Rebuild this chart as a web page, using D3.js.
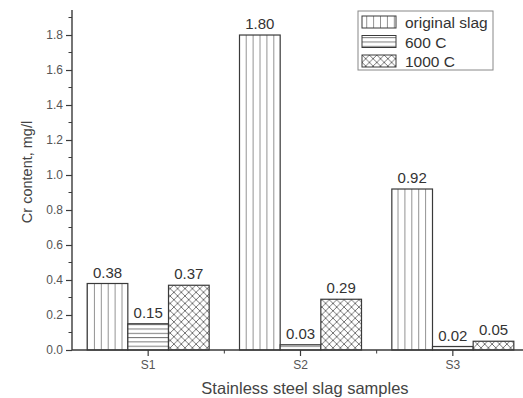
<!DOCTYPE html>
<html>
<head>
<meta charset="utf-8">
<script src="https://cdn.jsdelivr.net/npm/d3@7"></script>
<style>
  body { margin: 0; background: #fff; }
  svg { display: block; font-family: "Liberation Sans", Arial, sans-serif; }
</style>
</head>
<body>
<div id="chart"></div>
<script>
// Data
const samples = ["S1", "S2", "S3"];
const seriesNames = ["original slag", "600 C", "1000 C"];
const originalSlag = [0.38, 1.80, 0.92];
const c600 = [0.15, 0.03, 0.02];
const c1000 = [0.37, 0.29, 0.05];
const valueLabels = [["0.38", "1.80", "0.92"], ["0.15", "0.03", "0.02"], ["0.37", "0.29", "0.05"]];
const yTicks = [0, 0.2, 0.4, 0.6, 0.8, 1.0, 1.2, 1.4, 1.6, 1.8];

const width = 523, height = 398;
const margin = { top: 10, right: -6, bottom: 48, left: 72 };
const innerWidth = width - margin.left - margin.right;
const innerHeight = height - margin.top - margin.bottom;

const seriesValues = [originalSlag, c600, c1000];
const patternIds = ["pat-vert", "pat-horiz", "pat-cross"];
const lineColor = "#3a3a3a";
const font = "Liberation Sans, Arial, sans-serif";

const svg = d3.select("#chart").append("svg")
    .attr("width", width)
    .attr("height", height);

// Fill patterns
const defs = svg.append("defs");
const pv = defs.append("pattern").attr("id", "pat-vert")
    .attr("patternUnits", "userSpaceOnUse").attr("width", 6.9).attr("height", 10).attr("x", 88);
pv.append("rect").attr("width", 6.9).attr("height", 10).attr("fill", "#fff");
pv.append("line").attr("x1", 6.6).attr("x2", 6.6).attr("y1", 0).attr("y2", 10)
    .attr("stroke", "#777").attr("stroke-width", 1);

const ph = defs.append("pattern").attr("id", "pat-horiz")
    .attr("patternUnits", "userSpaceOnUse").attr("width", 10).attr("height", 4.3).attr("y", 350);
ph.append("rect").attr("width", 10).attr("height", 4.3).attr("fill", "#fff");
ph.append("line").attr("x1", 0).attr("x2", 10).attr("y1", 0.5).attr("y2", 0.5)
    .attr("stroke", "#777").attr("stroke-width", 1);

const pc = defs.append("pattern").attr("id", "pat-cross")
    .attr("patternUnits", "userSpaceOnUse").attr("width", 7.4).attr("height", 7.4);
pc.append("rect").attr("width", 7.4).attr("height", 7.4).attr("fill", "#fff");
pc.append("path").attr("d", "M0,0 L7.4,7.4 M7.4,0 L0,7.4")
    .attr("stroke", "#666").attr("stroke-width", 0.9).attr("fill", "none");

// Scales (absolute svg coordinates)
const x0 = d3.scaleBand().domain(samples).range([margin.left, margin.left + innerWidth]);
const groupWidth = 122;
const x1 = d3.scaleBand().domain(seriesNames).range([0, groupWidth]);
const y = d3.scaleLinear().domain([0, 1.943]).range([margin.top + innerHeight, margin.top]);
const offset = (x0.bandwidth() - groupWidth) / 2;

// Bars
const bars = svg.append("g");
const labels = svg.append("g");
seriesNames.forEach((name, si) => {
  bars.selectAll(null)
    .data(samples)
    .enter()
    .append("rect")
    .attr("x", d => x0(d) + offset + x1(name))
    .attr("y", (d, i) => y(seriesValues[si][i]))
    .attr("width", x1.bandwidth())
    .attr("height", (d, i) => y(0) - y(seriesValues[si][i]))
    .attr("fill", `url(#${patternIds[si]})`)
    .attr("stroke", lineColor)
    .attr("stroke-width", 1.2);

  labels.selectAll(null)
    .data(samples)
    .enter()
    .append("text")
    .attr("x", d => x0(d) + offset + x1(name) + x1.bandwidth() / 2)
    .attr("y", (d, i) => y(seriesValues[si][i]) - 6)
    .attr("text-anchor", "middle")
    .attr("font-size", 15)
    .attr("fill", "#333")
    .text((d, i) => valueLabels[si][i]);
});

// Y axis
const yAxis = svg.append("g").attr("transform", `translate(${margin.left},0)`)
  .call(d3.axisLeft(y).tickValues(yTicks).tickFormat(d3.format(".1f")).tickSize(6).tickPadding(3));
yAxis.select(".domain").attr("d", `M0,${y(0)}V${margin.top}`).attr("stroke", lineColor).attr("stroke-width", 1.4);
yAxis.selectAll(".tick line").attr("stroke", lineColor).attr("stroke-width", 1.2);
yAxis.selectAll(".tick text").attr("font-size", 12).attr("fill", "#555").attr("font-family", font);

// Minor y ticks
yAxis.append("g").selectAll("line")
  .data(d3.range(0.1, 1.95, 0.2))
  .enter().append("line")
  .attr("x1", -3.5).attr("x2", 0)
  .attr("y1", d => y(d)).attr("y2", d => y(d))
  .attr("stroke", lineColor).attr("stroke-width", 1);

// X axis
const xAxis = svg.append("g").attr("transform", `translate(0,${y(0)})`)
  .call(d3.axisBottom(x0).tickSize(6).tickPadding(4));
xAxis.select(".domain").attr("d", `M${margin.left},0H${width}`).attr("stroke", lineColor).attr("stroke-width", 1.4);
xAxis.selectAll(".tick line").attr("stroke", lineColor).attr("stroke-width", 1.2);
xAxis.selectAll(".tick text").attr("font-size", 12).attr("fill", "#555").attr("font-family", font);

// Minor x ticks between samples
xAxis.append("g").selectAll("line")
  .data(samples.slice(1))
  .enter().append("line")
  .attr("x1", d => x0(d)).attr("x2", d => x0(d))
  .attr("y1", 0).attr("y2", 3.5)
  .attr("stroke", lineColor).attr("stroke-width", 1);

// Axis labels
svg.append("text")
  .attr("x", 305)
  .attr("y", 394)
  .attr("text-anchor", "middle")
  .attr("font-size", 16.5)
  .attr("fill", "#444")
  .text("Stainless steel slag samples");

svg.append("text")
  .attr("transform", "translate(32,172) rotate(-90)")
  .attr("text-anchor", "middle")
  .attr("font-size", 14.5)
  .attr("fill", "#444")
  .text("Cr content, mg/l");

// Legend
const legend = svg.append("g").attr("transform", "translate(358,11)");
legend.append("rect")
  .attr("width", 135).attr("height", 59)
  .attr("fill", "#fff").attr("stroke", "#888").attr("stroke-width", 1);
seriesNames.forEach((name, i) => {
  const row = legend.append("g").attr("transform", `translate(4,${5 + i * 19.5})`);
  row.append("rect")
    .attr("width", 34).attr("height", 12)
    .attr("fill", `url(#${patternIds[i]})`)
    .attr("stroke", lineColor).attr("stroke-width", 1);
  row.append("text")
    .attr("x", 43).attr("y", 12)
    .attr("font-size", 15.5)
    .attr("fill", "#333")
    .text(name);
});
</script>
</body>
</html>
